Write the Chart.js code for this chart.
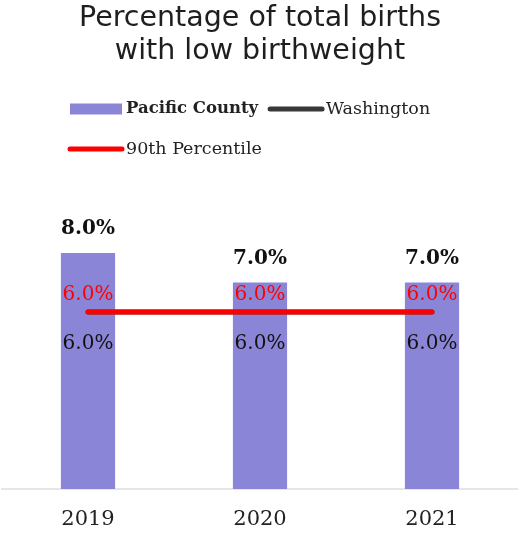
<!DOCTYPE html>
<html>
<head>
<meta charset="utf-8">
<style>
  html, body { margin: 0; padding: 0; background: #fff; }
  #wrap { width: 518px; height: 533px; }
</style>
<script src="https://cdn.jsdelivr.net/npm/chart.js@4"></script>
</head>
<body>
<div id="wrap"><canvas id="myChart"></canvas></div>
<script>
let years = ['2019', '2020', '2021'];
let countyValues = [8.0, 7.0, 7.0];
let stateValues = [6.0, 6.0, 6.0];
let percentileValues = [6.0, 6.0, 6.0];

let serif = "'DejaVu Serif', serif";

// value labels drawn over each point
let labelStyles = {
  'Pacific County': { color: '#111', weight: 'bold', size: 20, offset: -24 },
  'Washington': { color: '#111', weight: 'normal', size: 20, offset: 32 },
  '90th Percentile': { color: '#ff0000', weight: 'normal', size: 20, offset: -17 }
};

let valueLabels = {
  id: 'valueLabels',
  afterDatasetsDraw(chart) {
    let ctx = chart.ctx;
    chart.data.datasets.forEach((ds, i) => {
      let style = labelStyles[ds.label];
      let meta = chart.getDatasetMeta(i);
      ctx.save();
      ctx.font = style.weight + ' ' + style.size + 'px ' + serif;
      ctx.fillStyle = style.color;
      ctx.textAlign = 'center';
      ctx.textBaseline = 'middle';
      meta.data.forEach((el, j) => {
        ctx.fillText(ds.data[j].toFixed(1) + '%', el.x, el.y + style.offset);
      });
      ctx.restore();
    });
  }
};

// legend with a bold first entry
let customLegend = {
  id: 'customLegend',
  afterDraw(chart) {
    let ctx = chart.ctx;
    let x = 68, y = 109, maxRight = 470;
    let order = ['Pacific County', 'Washington', '90th Percentile'];
    ctx.save();
    ctx.textBaseline = 'middle';
    ctx.textAlign = 'left';
    order.forEach((name, k) => {
      let ds = chart.data.datasets.find(d => d.label === name);
      ctx.font = (k === 0 ? 'bold 16.5px ' : '17.5px ') + serif;
      let w = 56 + ctx.measureText(name).width;
      if (x + w > maxRight) { x = 68; y += 40; }
      if (ds.type === 'bar') {
        ctx.fillStyle = ds.backgroundColor;
        ctx.fillRect(x + 2, y - 5.5, 52, 11);
      } else {
        ctx.strokeStyle = ds.borderColor;
        ctx.lineWidth = 5;
        ctx.lineCap = 'round';
        ctx.beginPath();
        ctx.moveTo(x + 2, y);
        ctx.lineTo(x + 54, y);
        ctx.stroke();
      }
      ctx.fillStyle = '#222';
      ctx.fillText(name, x + 58, y);
      x += w + 12;
    });
    ctx.restore();
  }
};

let ctx = document.getElementById('myChart').getContext('2d');

let myChart = new Chart(ctx, {
  data: {
    labels: years,
    datasets: [{
      type: 'line',
      label: '90th Percentile',
      data: percentileValues,
      borderColor: '#ff0000',
      backgroundColor: '#ff0000',
      borderWidth: 5,
      borderCapStyle: 'round',
      pointRadius: 0,
      pointHoverRadius: 0,
      order: 0
    }, {
      type: 'line',
      label: 'Washington',
      data: stateValues,
      borderColor: '#383838',
      backgroundColor: '#383838',
      borderWidth: 5,
      borderCapStyle: 'round',
      pointRadius: 0,
      pointHoverRadius: 0,
      order: 1
    }, {
      type: 'bar',
      label: 'Pacific County',
      data: countyValues,
      backgroundColor: '#8b85d7',
      categoryPercentage: 1,
      barPercentage: 0.315,
      order: 2
    }]
  },
  options: {
    responsive: true,
    maintainAspectRatio: false,
    animation: false,
    layout: {
      autoPadding: false,
      padding: { left: 2, right: 0, top: 0, bottom: -18 }
    },
    plugins: {
      legend: { display: false },
      tooltip: { enabled: false },
      title: {
        display: true,
        text: ['Percentage of total births', 'with low birthweight'],
        color: '#1e1e1e',
        font: { family: "'DejaVu Sans', sans-serif", size: 28.5, weight: 'normal', lineHeight: 1.16 },
        padding: { top: 2, bottom: 126 }
      }
    },
    scales: {
      x: {
        grid: { display: false, drawTicks: false },
        border: { display: true, color: '#e6e6e6', width: 2 },
        ticks: {
          color: '#222',
          padding: 20,
          font: { family: serif, size: 21, lineHeight: 1.05 }
        }
      },
      y: {
        display: false,
        min: 0,
        max: 10
      }
    }
  },
  plugins: [valueLabels, customLegend]
});
</script>
</body>
</html>
